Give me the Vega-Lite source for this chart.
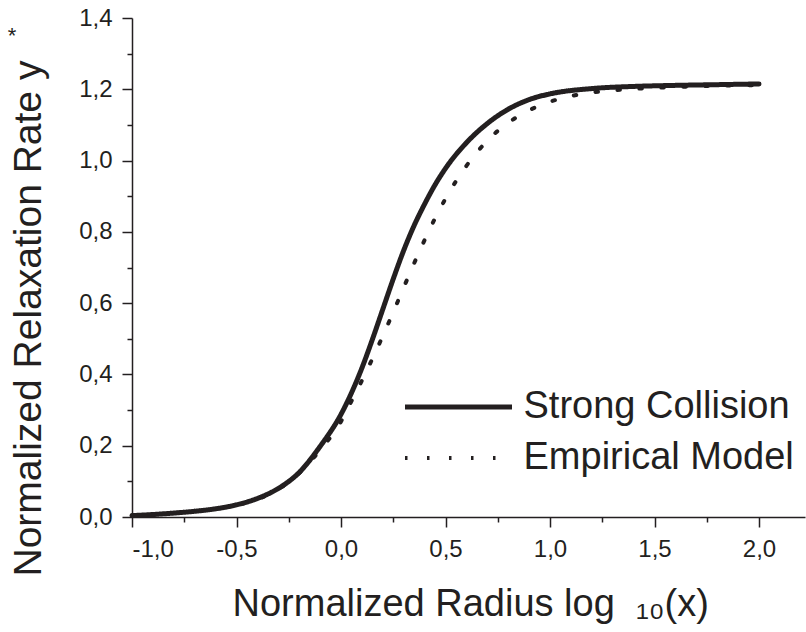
{
  "$schema": "https://vega.github.io/schema/vega-lite/v6.json",
  "width": 673,
  "height": 499,
  "autosize": "none",
  "padding": {"left": 132, "top": 18, "right": 1, "bottom": 115},
  "config": {
    "view": {"stroke": null},
    "axis": {"grid": false, "labelFont": "Liberation Sans", "titleFont": "Liberation Sans", "labelColor": "#231f20", "titleColor": "#231f20", "domainColor": "#231f20", "tickColor": "#231f20", "domainWidth": 1.5, "tickWidth": 1.5, "titleFontWeight": "normal"},
    "legend": {"labelFont": "Liberation Sans", "labelColor": "#231f20"}
  },
  "data": {"values": [
    {"model": "Empirical Model", "x": -1.0, "y": 0.004},
    {"model": "Empirical Model", "x": -0.9, "y": 0.007},
    {"model": "Empirical Model", "x": -0.8, "y": 0.011},
    {"model": "Empirical Model", "x": -0.7, "y": 0.016},
    {"model": "Empirical Model", "x": -0.6, "y": 0.023},
    {"model": "Empirical Model", "x": -0.5, "y": 0.033},
    {"model": "Empirical Model", "x": -0.4, "y": 0.050},
    {"model": "Empirical Model", "x": -0.3, "y": 0.078},
    {"model": "Empirical Model", "x": -0.2, "y": 0.123},
    {"model": "Empirical Model", "x": -0.1, "y": 0.188},
    {"model": "Empirical Model", "x": 0.0, "y": 0.268},
    {"model": "Empirical Model", "x": 0.05, "y": 0.325},
    {"model": "Empirical Model", "x": 0.1, "y": 0.383},
    {"model": "Empirical Model", "x": 0.15, "y": 0.444},
    {"model": "Empirical Model", "x": 0.2, "y": 0.508},
    {"model": "Empirical Model", "x": 0.25, "y": 0.575},
    {"model": "Empirical Model", "x": 0.3, "y": 0.644},
    {"model": "Empirical Model", "x": 0.35, "y": 0.712},
    {"model": "Empirical Model", "x": 0.4, "y": 0.777},
    {"model": "Empirical Model", "x": 0.45, "y": 0.838},
    {"model": "Empirical Model", "x": 0.5, "y": 0.893},
    {"model": "Empirical Model", "x": 0.55, "y": 0.942},
    {"model": "Empirical Model", "x": 0.6, "y": 0.985},
    {"model": "Empirical Model", "x": 0.65, "y": 1.023},
    {"model": "Empirical Model", "x": 0.7, "y": 1.056},
    {"model": "Empirical Model", "x": 0.8, "y": 1.106},
    {"model": "Empirical Model", "x": 0.9, "y": 1.141},
    {"model": "Empirical Model", "x": 1.0, "y": 1.165},
    {"model": "Empirical Model", "x": 1.1, "y": 1.181},
    {"model": "Empirical Model", "x": 1.2, "y": 1.191},
    {"model": "Empirical Model", "x": 1.3, "y": 1.197},
    {"model": "Empirical Model", "x": 1.5, "y": 1.204},
    {"model": "Empirical Model", "x": 1.75, "y": 1.209},
    {"model": "Empirical Model", "x": 2.0, "y": 1.212},
    {"model": "Strong Collision", "x": -1.0, "y": 0.004},
    {"model": "Strong Collision", "x": -0.9, "y": 0.007},
    {"model": "Strong Collision", "x": -0.8, "y": 0.011},
    {"model": "Strong Collision", "x": -0.7, "y": 0.016},
    {"model": "Strong Collision", "x": -0.6, "y": 0.023},
    {"model": "Strong Collision", "x": -0.5, "y": 0.034},
    {"model": "Strong Collision", "x": -0.4, "y": 0.052},
    {"model": "Strong Collision", "x": -0.3, "y": 0.080},
    {"model": "Strong Collision", "x": -0.2, "y": 0.125},
    {"model": "Strong Collision", "x": -0.1, "y": 0.198},
    {"model": "Strong Collision", "x": 0.0, "y": 0.288},
    {"model": "Strong Collision", "x": 0.05, "y": 0.348},
    {"model": "Strong Collision", "x": 0.1, "y": 0.418},
    {"model": "Strong Collision", "x": 0.15, "y": 0.498},
    {"model": "Strong Collision", "x": 0.2, "y": 0.583},
    {"model": "Strong Collision", "x": 0.25, "y": 0.668},
    {"model": "Strong Collision", "x": 0.3, "y": 0.748},
    {"model": "Strong Collision", "x": 0.35, "y": 0.818},
    {"model": "Strong Collision", "x": 0.4, "y": 0.878},
    {"model": "Strong Collision", "x": 0.45, "y": 0.932},
    {"model": "Strong Collision", "x": 0.5, "y": 0.978},
    {"model": "Strong Collision", "x": 0.6, "y": 1.05},
    {"model": "Strong Collision", "x": 0.7, "y": 1.104},
    {"model": "Strong Collision", "x": 0.8, "y": 1.144},
    {"model": "Strong Collision", "x": 0.9, "y": 1.171},
    {"model": "Strong Collision", "x": 1.0, "y": 1.187},
    {"model": "Strong Collision", "x": 1.2, "y": 1.202},
    {"model": "Strong Collision", "x": 1.4, "y": 1.208},
    {"model": "Strong Collision", "x": 1.6, "y": 1.211},
    {"model": "Strong Collision", "x": 1.8, "y": 1.213},
    {"model": "Strong Collision", "x": 2.0, "y": 1.215}
  ]},
  "layer": [
    {
      "mark": {"type": "line", "color": "#231f20", "strokeCap": "round", "interpolate": "monotone"},
      "encoding": {
        "x": {"field": "x", "type": "quantitative", "scale": {"domain": [-1, 2.22], "nice": false, "zero": false},
          "axis": {"orient": "bottom", "values": [-1, -0.5, 0, 0.5, 1, 1.5, 2], "tickSize": 10, "labelFontSize": 24, "labelPadding": 10,
            "labelExpr": "replace(replace(format(datum.value, '.1f'), '.', ','), '\u2212', '-')",
            "title": "Normalized Radius log\u00a0\u00a0\u2081\u2080(x)", "titleFontSize": 38, "titleAlign": "left", "titleAnchor": "start", "titleBaseline": "alphabetic", "titleX": 100, "titleY": 98}},
        "y": {"field": "y", "type": "quantitative", "scale": {"domain": [0, 1.4], "nice": false},
          "axis": {"orient": "left", "values": [0, 0.2, 0.4, 0.6, 0.8, 1.0, 1.2, 1.4], "tickSize": 10, "labelFontSize": 24, "labelPadding": 10,
            "labelExpr": "replace(format(datum.value, '.1f'), '.', ',')",
            "title": "Normalized Relaxation Rate y", "titleFontSize": 39, "titleAngle": 270, "titleAlign": "left", "titleAnchor": "start", "titleBaseline": "alphabetic", "titleX": -92, "titleY": 558}},
        "strokeDash": {"field": "model", "type": "nominal",
          "scale": {"domain": ["Strong Collision", "Empirical Model"], "range": [[1, 0], [2.5, 19.5]]},
          "legend": {"title": null, "orient": "none", "legendX": 307.5, "legendY": 370, "labelFontSize": 38, "labelLimit": 500, "labelOffset": 46, "rowPadding": 13, "padding": 0, "symbolType": "M-5,0H5", "symbolSize": 458, "symbolStrokeWidth": 4.5, "symbolStrokeColor": "#231f20", "symbolFillColor": "transparent", "symbolOffset": 0}},
        "strokeWidth": {"field": "model", "type": "nominal",
          "scale": {"domain": ["Strong Collision", "Empirical Model"], "range": [5, 4]}, "legend": null}
      }
    },
    {
      "mark": {"type": "line", "opacity": 0},
      "encoding": {
        "x": {"field": "x", "type": "quantitative",
          "axis": {"orient": "bottom", "values": [-0.75, -0.25, 0.25, 0.75, 1.25, 1.75], "tickSize": 5, "labels": false, "domain": false, "title": null}},
        "y": {"field": "y", "type": "quantitative",
          "axis": {"orient": "left", "values": [0.1, 0.3, 0.5, 0.7, 0.9, 1.1, 1.3], "tickSize": 5, "labels": false, "domain": false, "title": null}}
      }
    },
    {
      "data": {"values": [{"note": "*"}]},
      "mark": {"type": "text", "font": "Liberation Sans", "fontSize": 22, "color": "#231f20", "clip": false, "baseline": "middle", "align": "center"},
      "encoding": {
        "text": {"field": "note"},
        "x": {"datum": -1.574, "axis": null},
        "y": {"datum": 1.35, "axis": null}
      }
    }
  ],
  "resolve": {"axis": {"x": "independent", "y": "independent"}}
}
